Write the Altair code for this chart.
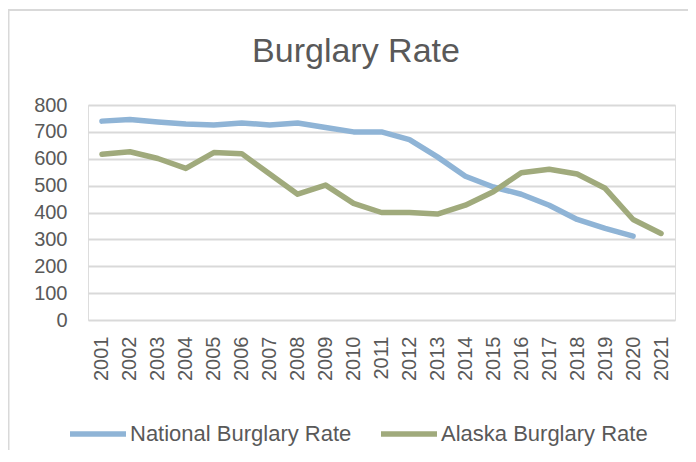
import altair as alt
import pandas as pd

years = [str(y) for y in range(2001, 2022)]
national = [740, 746, 737, 729, 726, 733, 726, 733, 716, 700,
            700, 671, 607, 535, 495, 468, 427, 374, 341, 312, None]
alaska = [617, 626, 601, 564, 623, 619, 543, 468, 502, 434,
          400, 400, 394, 427, 477, 548, 561, 543, 490, 374, 322]
series_names = ["National Burglary Rate", "Alaska Burglary Rate"]
series_colors = ["#8FB4D6", "#A0AA7C"]
y_ticks = [0, 100, 200, 300, 400, 500, 600, 700, 800]

rows = []
for i, yr in enumerate(years):
    if national[i] is not None:
        rows.append({"Year": yr, "Series": series_names[0], "Rate": national[i]})
    if alaska[i] is not None:
        rows.append({"Year": yr, "Series": series_names[1], "Rate": alaska[i]})
df = pd.DataFrame(rows)

NUM_FONT = "Liberation Sans"
TXT_FONT = "Liberation Sans Narrow, Liberation Sans"
GREY = "#595959"

lines = alt.Chart(df).mark_line(strokeWidth=5.5, strokeCap="round", strokeJoin="round").encode(
    x=alt.X("Year:N", sort=years, scale=alt.Scale(domain=years, paddingInner=0, paddingOuter=0.5),
            axis=alt.Axis(title=None, labelAngle=-90, labelFont=NUM_FONT, labelFontSize=20,
                          labelColor=GREY, labelPadding=16, ticks=False, domain=False, grid=False)),
    y=alt.Y("Rate:Q", scale=alt.Scale(domain=[0, 800], nice=False),
            axis=alt.Axis(title=None, values=y_ticks, labelFont=NUM_FONT, labelFontSize=20,
                          labelColor=GREY, labelPadding=21, ticks=False, domain=False,
                          grid=True, gridColor="#D9D9D9", gridWidth=2)),
    color=alt.Color("Series:N", sort=series_names,
                    scale=alt.Scale(domain=series_names, range=series_colors),
                    legend=alt.Legend(title=None, orient="none", direction="horizontal",
                                      legendX=-21, legendY=298,
                                      symbolType="stroke", symbolSize=3136, symbolStrokeWidth=5.5,
                                      labelFont=TXT_FONT, labelFontSize=22, labelColor=GREY,
                                      labelLimit=0, labelOffset=1, columnPadding=18)),
)

title_df = pd.DataFrame({"t": ["Burglary Rate"]})
title = alt.Chart(title_df).mark_text(font=TXT_FONT, fontSize=34, color=GREY,
                                      align="center", baseline="alphabetic").encode(
    x=alt.value(268), y=alt.value(-43), text="t:N")

frame_v = alt.Chart(title_df).mark_rule(color="#D9D9D9", strokeWidth=2).encode(
    x=alt.value(-79.5), y=alt.value(-95), y2=alt.value(345))
frame_h = alt.Chart(title_df).mark_rule(color="#D9D9D9", strokeWidth=2).encode(
    x=alt.value(-80), x2=alt.value(600), y=alt.value(-95))

chart = alt.layer(frame_v, frame_h, lines, title).properties(
    width=587, height=215,
    autosize=alt.AutoSizeParams(type="none"),
    padding={"left": 80, "top": 97, "right": 13, "bottom": 130},
).configure_view(stroke=None).configure(background="white")

chart.save("out.html", embed_options={"renderer": "svg", "actions": False})
